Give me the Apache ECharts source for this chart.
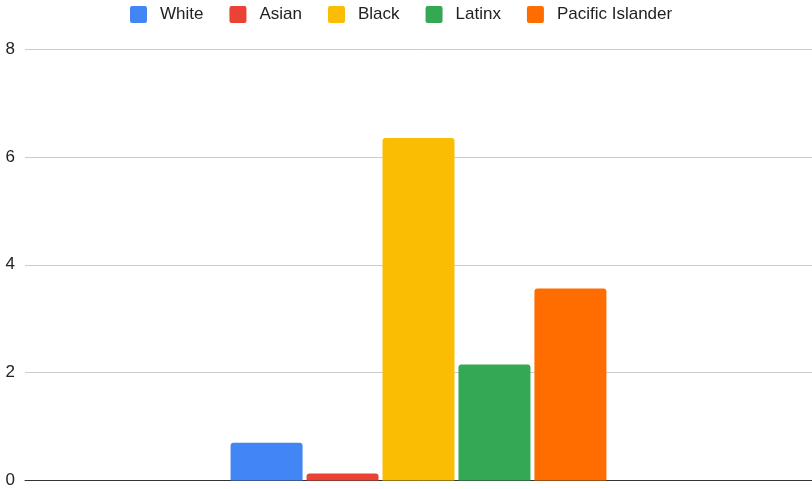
<!DOCTYPE html>
<html>
<head>
<meta charset="utf-8">
<script src="https://cdn.jsdelivr.net/npm/echarts@6/dist/echarts.min.js"></script>
<style>
  html, body { margin: 0; padding: 0; background: #fff; }
  #chart { width: 812px; height: 489px; }
</style>
</head>
<body>
<div id="chart"></div>
<script>
// Groups shown as bars within a single category
const groups = ['White', 'Asian', 'Black', 'Latinx', 'Pacific Islander'];
const values = [0.70, 0.13, 6.35, 2.15, 3.56];
const colors = ['#4285F4', '#EA4335', '#FBBC04', '#34A853', '#FF6D01'];
const yTicks = [0, 2, 4, 6, 8];

const chart = echarts.init(document.getElementById('chart'));

const series = groups.map((name, i) => ({
  name: name,
  type: 'bar',
  data: [values[i]],
  barWidth: 72,
  barGap: '5.5%',
  itemStyle: { color: colors[i], borderRadius: [3, 3, 0, 0] }
}));

// Square legend marker with slightly rounded corners
const squareIcon = 'path://M2,0 H14 Q16,0 16,2 V14 Q16,16 14,16 H2 Q0,16 0,14 V2 Q0,0 2,0 Z';

chart.setOption({
  animation: false,
  textStyle: { fontFamily: 'Liberation Sans, Arial, sans-serif' },
  legend: {
    top: 1,
    left: 125,
    icon: squareIcon,
    itemWidth: 17,
    itemHeight: 17,
    itemGap: 26,
    textStyle: { fontSize: 17, color: '#222', padding: [0, 0, 0, 8] },
    data: groups
  },
  grid: { left: 25, right: 0, top: 49, bottom: 7, containLabel: false },
  xAxis: {
    type: 'category',
    data: [''],
    axisTick: { show: false },
    axisLabel: { show: false },
    axisLine: { lineStyle: { color: '#333', width: 1 } }
  },
  yAxis: {
    type: 'value',
    min: yTicks[0],
    max: yTicks[yTicks.length - 1],
    interval: 2,
    axisLine: { show: false },
    axisTick: { show: false },
    axisLabel: { fontSize: 17, color: '#222', margin: 10 },
    splitLine: { lineStyle: { color: '#cccccc', width: 1 } }
  },
  series: series
});
</script>
</body>
</html>
